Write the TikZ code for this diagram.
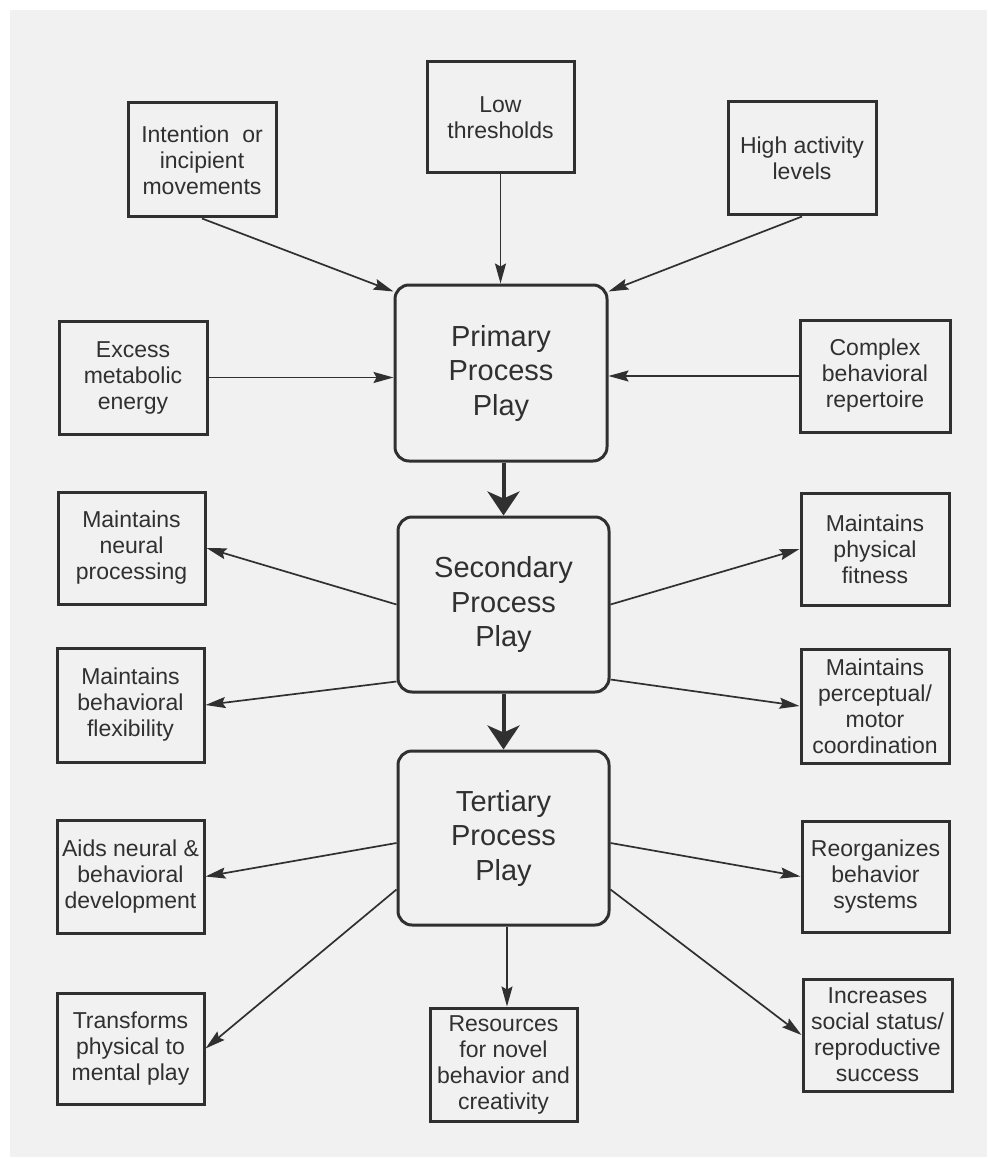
\documentclass[tikz,border=0pt]{standalone}
\usepackage{fontspec}
\setmainfont{Liberation Sans}
\usetikzlibrary{arrows.meta}
\definecolor{ink}{HTML}{303030}
\definecolor{paper}{HTML}{F1F1F1}
\tikzset{
  sbox/.style={draw=ink, line width=3pt, fill=paper, text=ink, align=center,
    inner sep=0pt, font=\fontsize{23}{26}\selectfont},
  pbox/.style={draw=ink, line width=3pt, fill=paper, text=ink, align=center,
    rounded corners=14pt, inner sep=0pt, minimum width=211pt, minimum height=175pt,
    font=\fontsize{29}{34.5}\selectfont},
  thin/.style={draw=ink, line width=1.7pt, -{Stealth[length=20pt,width=11pt,inset=3pt]}},
  thick/.style={draw=ink, line width=4pt, -{Stealth[length=24pt,width=32pt,inset=7pt]}}
}
\begin{document}
\begin{tikzpicture}[x=1pt,y=-1pt]
\useasboundingbox (0,0) rectangle (987,1158);
\fill[white] (0,0) rectangle (987,1158);
\fill[paper] (10,10) rectangle (987,1157);

\node[sbox, minimum width=148pt, minimum height=114pt] (intent) at (202,160) {Intention\ \ or\\incipient\\movements};
\node[sbox, minimum width=147pt, minimum height=111pt] (low) at (500.5,117.5) {Low\\thresholds};
\node[sbox, minimum width=148pt, minimum height=113pt] (high) at (802,158.5) {High activity\\levels};
\node[sbox, minimum width=148pt, minimum height=113pt] (excess) at (133,377.5) {Excess\\metabolic\\energy};
\node[sbox, minimum width=150pt, minimum height=112pt] (complex) at (875,376) {Complex\\behavioral\\repertoire};

\node[pbox, minimum width=212pt, minimum height=176pt] (primary) at (501,373) {Primary\\Process\\Play};
\node[pbox] (secondary) at (503.5,604.5) {Secondary\\Process\\Play};
\node[pbox, minimum height=174pt] (tertiary) at (503.5,838) {Tertiary\\Process\\Play};

\node[sbox, minimum width=147pt, minimum height=112pt] (neural) at (131.5,548) {Maintains\\neural\\processing};
\node[sbox, minimum width=148pt, minimum height=112pt] (fitness) at (875,549) {Maintains\\physical\\fitness};
\node[sbox, minimum width=147pt, minimum height=114pt] (flex) at (130.5,705) {Maintains\\behavioral\\flexibility};
\node[sbox, minimum width=148pt, minimum height=114pt] (percept) at (875,706) {Maintains\\perceptual/\\motor\\coordination};
\node[sbox, minimum width=147pt, minimum height=113pt] (aids) at (130.5,876.5) {Aids neural \&\\behavioral\\development};
\node[sbox, minimum width=147pt, minimum height=111pt] (reorg) at (875.5,876.5) {Reorganizes\\behavior\\systems};
\node[sbox, minimum width=147pt, minimum height=111pt] (transf) at (130.5,1048.5) {Transforms\\physical to\\mental play};
\node[sbox, minimum width=147pt, minimum height=113pt] (resources) at (503.5,1064.5) {Resources\\for novel\\behavior and\\creativity};
\node[sbox, minimum width=149pt, minimum height=112pt] (increases) at (877.5,1035) {Increases\\social status/\\reproductive\\success};

% inputs to primary
\draw[thin] (intent.south) -- ([yshift=-8pt]primary.north west);
\draw[thin] (low.south) -- (low.south |- primary.north);
\draw[thin] (high.south) -- ([yshift=-8pt]primary.north east);
\draw[thin] (excess.east) -- (excess.east -| primary.west);
\draw[thin] (complex.west) -- (complex.west -| primary.east);

% main chain
\draw[thick] (primary.south -| secondary.north) -- (secondary.north);
\draw[thick] (secondary.south) -- (tertiary.north);

% secondary outputs
\draw[thin] (secondary.west) -- (neural.east);
\draw[thin] (secondary.east) -- (fitness.west);
\draw[thin] ([yshift=12pt]secondary.south west) -- (flex.east);
\draw[thin] ([yshift=14pt]secondary.south east) -- (percept.west);

% tertiary outputs
\draw[thin] ([yshift=-5pt]tertiary.west) -- (aids.east);
\draw[thin] ([yshift=-5pt]tertiary.east) -- (reorg.west);
\draw[thin] ([yshift=37pt]tertiary.south west) -- (transf.east);
\draw[thin] ([xshift=3.5pt]tertiary.south) -- ([xshift=3.5pt]resources.north);
\draw[thin] ([yshift=37pt]tertiary.south east) -- (increases.west);
\end{tikzpicture}
\end{document}
